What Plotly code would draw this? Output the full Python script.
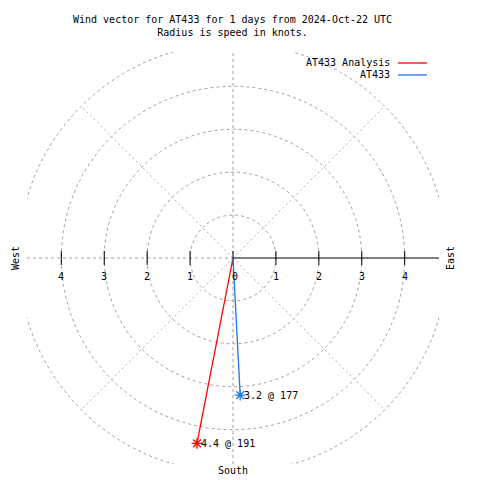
import numpy as np
import plotly.graph_objects as go

# ---- data ----
series_names = ["AT433 Analysis", "AT433"]
speeds_kt = [4.4, 3.2]
directions_deg = [191, 177]
ring_radii = [1, 2, 3, 4, 5]
spoke_angles = [45, 135, 225, 315]
tick_values = [-4, -3, -2, -1, 0, 1, 2, 3, 4]
tick_labels = ["4", "3", "2", "1", "0", "1", "2", "3", "4"]
title_lines = ["Wind vector for AT433 for 1 days from 2024-Oct-22 UTC",
               "Radius is speed in knots."]

# ---- styles ----
series_colors = ["#ff0000", "#1e78e6"]
grid_color = "#a0a0a0"
FONT = "DejaVu Sans Mono"
W, H = 480, 480
ML, MR, MT, MB = 27, 41, 52, 16
PW, PH = W - ML - MR, H - MT - MB
RANGE = 4.8


def px(xp):
    return (xp - ML) / PW


def py(yp):
    return (H - MB - yp) / PH


fig = go.Figure()

grid_line = dict(color=grid_color, width=1, dash="3px,3px")
for r in ring_radii:
    fig.add_shape(type="circle", xref="x", yref="y", x0=-r, y0=-r, x1=r, y1=r,
                  line=grid_line, layer="below")
r_out = ring_radii[-1]
for a in spoke_angles:
    t = np.deg2rad(a)
    fig.add_shape(type="line", xref="x", yref="y", x0=0, y0=0,
                  x1=r_out * np.sin(t), y1=r_out * np.cos(t),
                  line=dict(color="#b0b0b0", width=1, dash="2px,3px"), layer="below")
fig.add_shape(type="line", xref="x", yref="y", x0=0, y0=-RANGE, x1=0, y1=RANGE,
              line=grid_line, layer="below")
fig.add_shape(type="line", xref="x", yref="y", x0=-RANGE, y0=0, x1=0, y1=0,
              line=grid_line, layer="below")
fig.add_shape(type="line", xref="x", yref="y", x0=0, y0=0, x1=RANGE, y1=0,
              line=dict(color="black", width=1.2), layer="below")

# tick marks on the radial axis
fig.add_trace(go.Scatter(x=tick_values, y=[0] * len(tick_values), mode="markers",
                         marker=dict(symbol="line-ns-open", size=10, color="black",
                                     line=dict(color="black", width=1)),
                         hoverinfo="skip", showlegend=False))
for v, lab in zip(tick_values, tick_labels):
    fig.add_annotation(x=v, y=0, xref="x", yref="y", text=lab, showarrow=False,
                       yshift=-18, xshift=2 if v == 0 else 0,
                       font=dict(family=FONT, size=10, color="black"))

# wind vectors
for name, s, d, c in zip(series_names, speeds_kt, directions_deg, series_colors):
    t = np.deg2rad(d)
    u, v = s * np.sin(t), s * np.cos(t)
    fig.add_trace(go.Scatter(x=[0, u], y=[0, v], mode="lines",
                             line=dict(color=c, width=1.3), showlegend=False, name=name))
    fig.add_trace(go.Scatter(x=[u], y=[v], mode="markers",
                             marker=dict(symbol="asterisk-open", size=9, color=c,
                                         line=dict(color=c, width=1.3)),
                             showlegend=False, name=name))
    fig.add_annotation(x=u, y=v, xref="x", yref="y", text=f"{s} @ {d}",
                       showarrow=False, xanchor="left", xshift=2,
                       font=dict(family=FONT, size=10, color="black"))

# legend (gnuplot style: text then line sample)
legend_y = [63, 75]
for name, c, ly in zip(series_names, series_colors, legend_y):
    fig.add_annotation(x=px(392), y=py(ly), xref="paper", yref="paper", text=name,
                       showarrow=False, xanchor="right", yanchor="middle",
                       font=dict(family=FONT, size=10, color="black"))
    fig.add_shape(type="line", xref="paper", yref="paper", x0=px(398), x1=px(427),
                  y0=py(ly), y1=py(ly), line=dict(color=c, width=1.3))

# title
fig.add_annotation(x=px(232), y=py(12), xref="paper", yref="paper",
                   text="<br>".join(title_lines), showarrow=False,
                   xanchor="center", yanchor="top", align="center",
                   font=dict(family=FONT, size=10, color="black"))

# compass labels
fig.add_annotation(x=px(15), y=py(258), xref="paper", yref="paper", text="West",
                   textangle=-90, showarrow=False, xanchor="center", yanchor="middle",
                   font=dict(family=FONT, size=10, color="black"))
fig.add_annotation(x=px(450), y=py(258), xref="paper", yref="paper", text="East",
                   textangle=-90, showarrow=False, xanchor="center", yanchor="middle",
                   font=dict(family=FONT, size=10, color="black"))
fig.add_annotation(x=px(233), y=py(470), xref="paper", yref="paper", text="South",
                   showarrow=False, xanchor="center", yanchor="middle",
                   font=dict(family=FONT, size=10, color="black"))

fig.update_xaxes(range=[-RANGE, RANGE], visible=False, showgrid=False, zeroline=False)
fig.update_yaxes(range=[-RANGE, RANGE], visible=False, showgrid=False, zeroline=False)
fig.update_layout(width=W, height=H, autosize=False,
                  margin=dict(l=ML, r=MR, t=MT, b=MB, pad=0),
                  paper_bgcolor="white", plot_bgcolor="white",
                  showlegend=False, hovermode=False)

fig.write_html("out.html", config={"displayModeBar": False, "staticPlot": True},
               post_script="document.body.style.margin='0';document.body.style.padding='0';")
